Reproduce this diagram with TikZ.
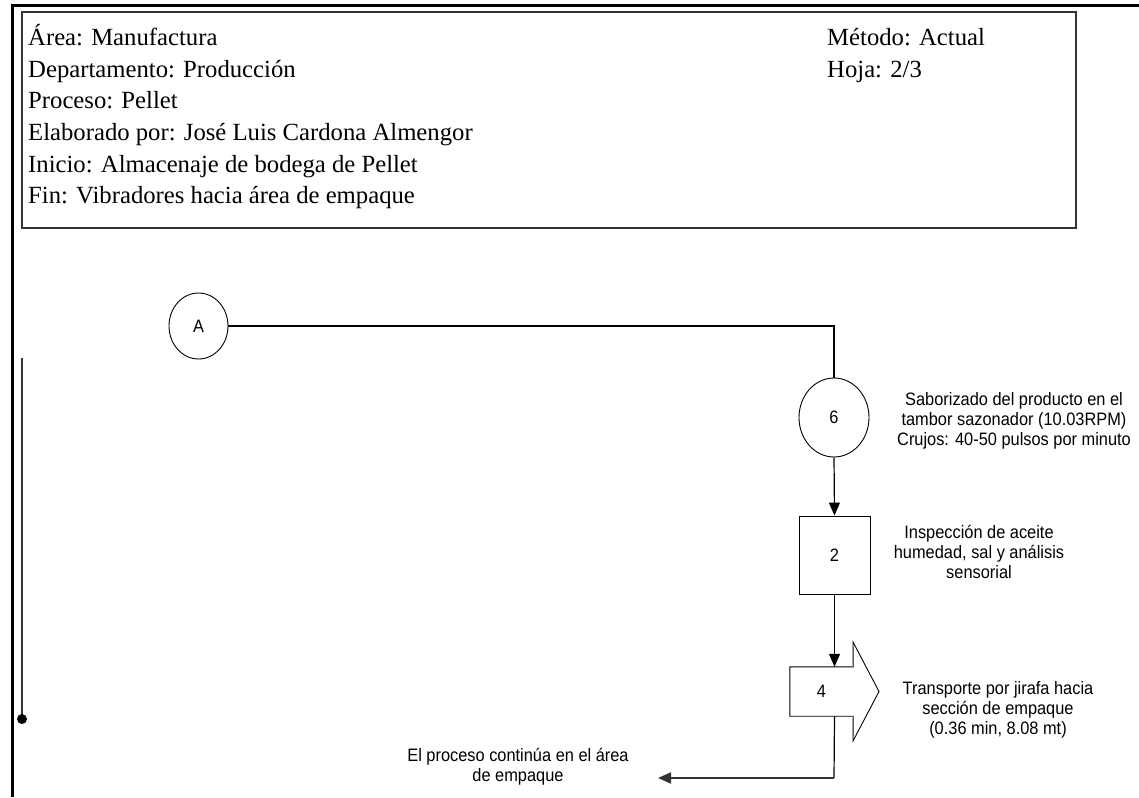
\documentclass[tikz,border=0pt]{standalone}
\usepackage{fontspec}
\setmainfont{Liberation Serif}
\newfontfamily\arial[FakeStretch=0.91]{Liberation Sans}
\usetikzlibrary{shapes.geometric,arrows.meta}
\tikzset{
  hdr/.style={anchor=base west,inner sep=0pt,font=\fontsize{24.7}{31}\selectfont},
  note/.style={align=center,inner sep=0pt,font=\arial\fontsize{18}{20}\selectfont},
  oper/.style={ellipse,draw=black,line width=0.9pt,inner sep=0pt,font=\arial\fontsize{18}{20}\selectfont},
  insp/.style={rectangle,draw=black,line width=0.9pt,inner sep=0pt,minimum width=71pt,minimum height=78pt,font=\arial\fontsize{18}{20}\selectfont},
  flow/.style={line width=1.2pt,-{Triangle[length=13pt,width=11pt]}},
  link/.style={line width=1.2pt},
}
\begin{document}
\begin{tikzpicture}[x=1pt,y=-1pt]
\useasboundingbox (0,0) rectangle (1139,797);

% page frame
\draw[line width=3pt] (1139,6) -- (12,6) -- (12,797);

% header box
\draw[draw=black!80,line width=1.3pt] (22,12) rectangle (1076,228);
\node[hdr] (h1) at (28,46) {Área: Manufactura};
\node[hdr] (h2) at (28,77.5) {Departamento: Producción};
\node[hdr] (h3) at (28,109) {Proceso: Pellet};
\node[hdr] (h4) at (28,140.5) {Elaborado por: José Luis Cardona Almengor};
\node[hdr] (h5) at (28,172) {Inicio: Almacenaje de bodega de Pellet};
\node[hdr] (h6) at (28,203.5) {Fin: Vibradores hacia área de empaque};
\node[hdr] (m1) at (827,46) {Método: Actual};
\node[hdr] (m2) at (827,77.5) {Hoja: 2/3};

% left margin line
\coordinate (lt) at (22,358);
\coordinate (lb) at (22,719);
\draw[draw=black!80,line width=1.8pt] (lt) -- (lb);
\fill (lb) circle (5pt);

% connector A
\node[oper,minimum width=59pt,minimum height=66pt] (A) at (198.5,326) {A};

% operation 6
\node[oper,minimum width=70pt,minimum height=79pt] (op6) at (834,417.5) {6};
\node[note] (t6) at (1014,421) {Saborizado del producto en el\\tambor sazonador (10.03RPM)\\Crujos: 40-50 pulsos por minuto};

% inspection 2
\node[insp] (in2) at (834.5,555) {2};
\node[note] (t2) at (979,552) {Inspección de aceite\\humedad, sal y análisis\\sensorial};

% transport 4
\node[rectangle,inner sep=0pt,minimum width=63pt,minimum height=49pt,font=\arial\fontsize{18}{20}\selectfont] (tr4) at (821.5,691.5) {4};
\draw[line width=0.9pt] (tr4.north west) -- (tr4.north east) -- (853,642) -- (879,691.5) -- (853,741) -- (tr4.south east) -- (tr4.south west) -- cycle;
\node[note] (t4) at (998,710) {Transporte por jirafa hacia\\sección de empaque\\(0.36 min, 8.08 mt)};

% end
\coordinate (corner) at (834,778);
\coordinate (endpt) at (658,778);
\node[note] (tend) at (518,767) {El proceso continúa en el área\\de empaque};

% flow lines
\draw[link] (A.east) -| (op6.north);
\draw[flow] (op6.south) -- (in2.north);
\draw[flow] (in2.south) -- (in2.south |- tr4.north);
\draw[link] (in2.south |- tr4.south) -- (corner);
\draw[flow,line width=1.8pt,draw=black!80] (corner) -- (endpt);
\end{tikzpicture}
\end{document}
